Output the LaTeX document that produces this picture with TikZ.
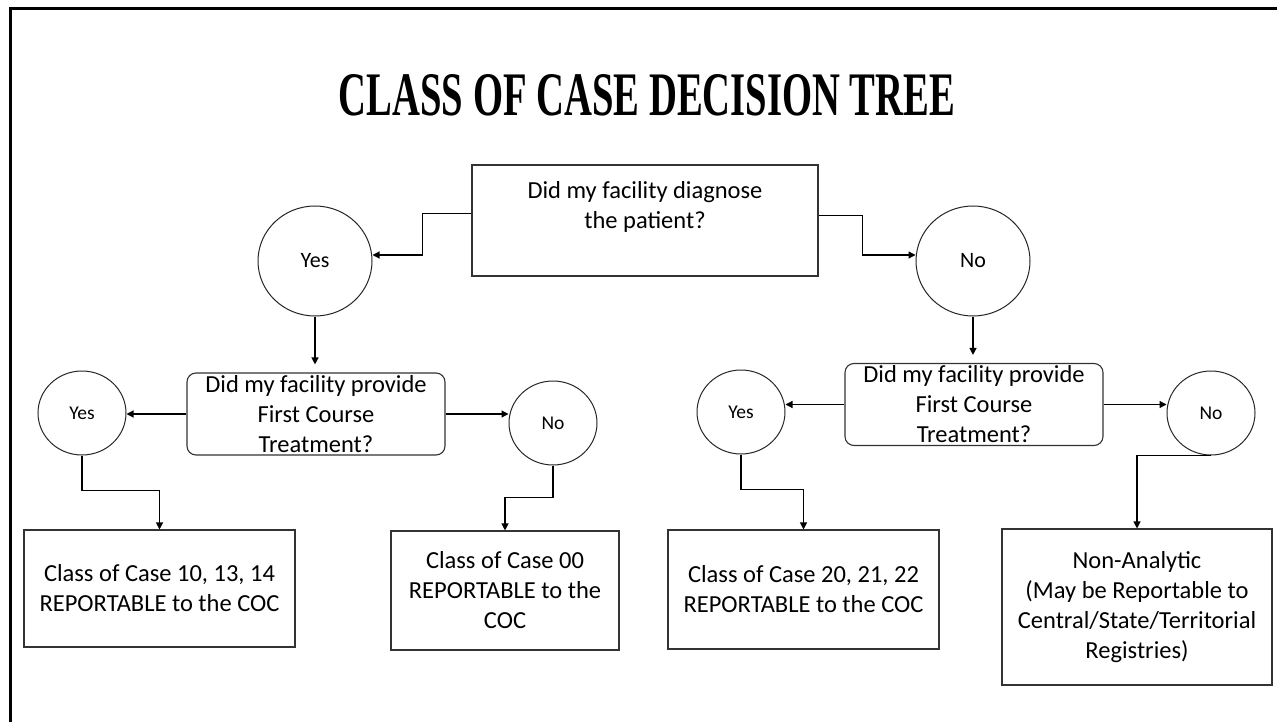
\documentclass[tikz,border=0pt]{standalone}
\usepackage{fontspec}
\usepackage{graphicx}
\setmainfont{Carlito}
\newfontfamily\titlefont{Liberation Serif}
\usetikzlibrary{arrows.meta,shapes.geometric,calc}
\begin{document}
\begin{tikzpicture}[x=1pt,y=-1pt,
  box/.style={draw=black!80, line width=1.1pt, rectangle, inner sep=0pt,
    font=\fontsize{24.5}{30}\selectfont, align=center},
  rbox/.style={box, rounded corners=9pt},
  bigc/.style={draw=black!85, line width=1pt, ellipse, minimum width=114pt,
    minimum height=110pt, inner sep=0pt, font=\fontsize{22}{26}\selectfont},
  smallc/.style={draw=black!85, line width=1pt, ellipse, minimum width=88pt,
    minimum height=84pt, inner sep=0pt, font=\fontsize{19.5}{24}\selectfont},
  conn/.style={draw=black, line width=1.2pt, -{Triangle[length=7pt,width=7pt]}},
  txt/.style={inner sep=0pt, font=\fontsize{24.5}{30}\selectfont, align=center}
]
\useasboundingbox (0,0) rectangle (1277,722);
% frame
\draw[line width=3pt] (10,722) -- (10,9) -- (1277,9);
% title
\node[inner sep=0pt] (title) at (647,95) {\titlefont\bfseries\resizebox{616pt}{41pt}{CLASS OF CASE DECISION TREE}};
% top question
\node[box, minimum width=346pt, minimum height=111pt] (q1) at (645,220.5) {};
\node[txt] (q1t) at (645,207) {Did my facility diagnose\\the patient?};
% top circles
\node[bigc] (yT) at (315,261) {Yes};
\node[bigc] (nT) at (973,261) {No};
% second questions
\node[rbox, minimum width=258pt, minimum height=82pt] (rbL) at (316,414) {Did my facility provide\\First Course\\Treatment?};
\node[rbox, minimum width=258pt, minimum height=82pt] (rbR) at (974,404.5) {Did my facility provide\\First Course\\Treatment?};
% small circles
\node[smallc] (syL) at (82,413) {Yes};
\node[smallc] (snL) at (553,423) {No};
\node[smallc] (syR) at (741,412) {Yes};
\node[smallc] (snR) at (1211,413) {No};
% results
\node[box, minimum width=271pt, minimum height=117pt] (b1) at (159.5,588.5) {Class of Case 10, 13, 14\\REPORTABLE to the COC};
\node[box, minimum width=228pt, minimum height=119pt] (b2) at (505,590.5) {Class of Case 00\\REPORTABLE to the\\COC};
\node[box, minimum width=271pt, minimum height=119pt] (b3) at (803.5,589.5) {Class of Case 20, 21, 22\\REPORTABLE to the COC};
\node[box, minimum width=270pt, minimum height=156pt] (b4) at (1137,607) {Non-Analytic\\(May be Reportable to\\Central/State/Territorial\\Registries)};
% connectors
\draw[conn] ([yshift=7pt]q1.west) -- ++(-49,0) |- ([yshift=6pt]yT.east);
\draw[conn] ([yshift=5pt]q1.east) -- ++(44,0) |- ([yshift=6pt]nT.west);
\draw[conn, shorten >=8pt] (yT.south) -- (yT.south |- rbL.north);
\draw[conn, shorten >=8pt] (nT.south) -- (nT.south |- rbR.north);
\draw[conn] (rbL.west) -- (rbL.west -| syL.east);
\draw[conn] (rbL.east) -- (rbL.east -| snL.west);
\draw[conn] (rbR.west) -- (rbR.west -| syR.east);
\draw[conn] (rbR.east) -- (rbR.east -| snR.west);
\draw[conn] (syL.south) -- ++(0,35) -| (b1.north);
\draw[conn] (snL.south) -- ++(0,32) -| (b2.north);
\draw[conn] (syR.south) -- ++(0,35) -| (b3.north);
\draw[conn] (snR.south) -| (b4.north);
\end{tikzpicture}
\end{document}
